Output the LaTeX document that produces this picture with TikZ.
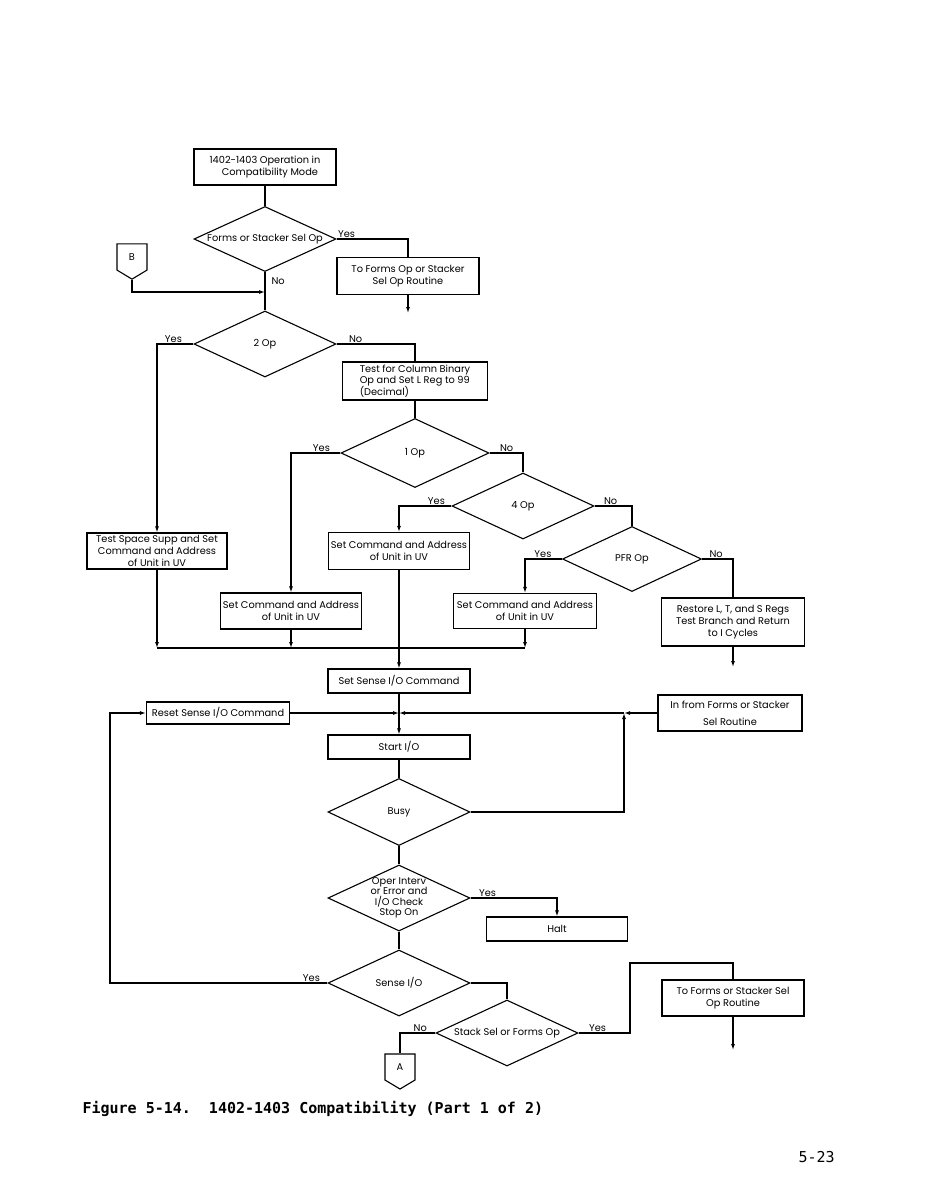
\documentclass[tikz,border=0pt]{standalone}
\usepackage{fontspec}
\setmainfont{Poppins}
\newfontfamily\capfont{DejaVu Sans Mono}
\usetikzlibrary{arrows.meta,positioning,shapes.geometric,shapes.symbols}
\newcommand\boxfont{\fontsize{9.8}{11.8}\selectfont}

\tikzset{
  proc/.style={draw, rectangle, minimum width=142pt, minimum height=36pt,
               inner sep=1pt, align=center, font=\boxfont},
  short/.style={proc, minimum height=24pt},
  decision/.style={draw, diamond, minimum width=142pt, minimum height=66pt,
                   inner sep=0pt},
  offpage/.style={draw, signal, signal to=south, signal pointer angle=118,
                  minimum width=30pt, minimum height=28pt, inner sep=0pt,
                  font=\boxfont},
  lab/.style={font=\boxfont, inner sep=1pt},
}

\begin{document}
\begin{tikzpicture}[x=1pt,y=-1pt,line width=1.1pt,>={Latex[length=6pt,width=4pt]}]
  \useasboundingbox (0,0) rectangle (925,1192);

  % top: entry and forms/stacker test
  \node[proc] (start) at (265,167) {1402-1403 Operation in\\\quad Compatibility Mode};
  \node[decision, minimum height=65pt] (d1) at (265,239)
    [label={[lab]center:Forms or Stacker Sel Op}] {};
  \node[proc, minimum height=37pt] (frm) at (408,276) {To Forms Op or Stacker\\Sel Op Routine};
  \coordinate (frmout) at (408,313);
  \node[offpage] (bconn) at (132,257) {B};
  \coordinate (jb) at (265,292);

  % op code tests
  \node[decision] (d2) at (265,344) [label={[lab]center:2 Op}] {};
  \node[proc, minimum width=145pt, minimum height=38pt, align=left] (colbin) at (415,381)
    {Test for Column Binary\\Op and Set L Reg to 99\\(Decimal)};
  \node[decision, minimum width=148pt, minimum height=69pt] (d3) at (415,453)
    [label={[lab]center:1 Op}] {};
  \node[decision] (d4) at (523,506) [label={[lab]center:4 Op}] {};
  \node[decision, minimum width=139pt, minimum height=65pt] (d5) at (632,559)
    [label={[lab]center:PFR Op}] {};

  % set command boxes
  \node[proc, minimum width=140pt] (space) at (157,551)
    {Test Space Supp and Set\\Command and Address\\of Unit in UV};
  \node[proc, minimum width=141pt, minimum height=37pt] (cmdB) at (399,551)
    {Set Command and Address\\of Unit in UV};
  \node[proc, minimum width=141pt] (cmdA) at (291,611)
    {Set Command and Address\\of Unit in UV};
  \node[proc, minimum width=143pt, minimum height=35pt] (cmdC) at (525,611)
    {Set Command and Address\\of Unit in UV};
  \node[proc, minimum width=143pt, minimum height=48pt] (restore) at (733,622)
    {Restore L, T, and S Regs\\Test Branch and Return\\to I Cycles};
  \coordinate (restoreout) at (733,667);
  \coordinate (merge) at (157,648);

  % sense I/O loop
  \node[short] (sense) at (399,681) {Set Sense I/O Command};
  \node[short, minimum width=143pt, minimum height=22pt] (reset) at (218,713) {Reset Sense I/O Command};
  \node[proc, minimum width=144pt] (infrom) at (730,713)
    {In from Forms or Stacker\\[5pt]Sel Routine};
  \coordinate (j) at (399,713);
  \coordinate (jbusy) at (624,713);
  \node[short] (startio) at (399,747) {Start I/O};
  \node[decision, minimum height=67pt] (busy) at (399,812) [label={[lab]center:Busy}] {};
  \node[decision] (oper) at (399,898)
    [label={[lab,align=center,font=\fontsize{9.8}{10.4}\selectfont]center:Oper Interv\\or Error and\\I/O Check\\Stop On}] {};
  \node[short, minimum width=141pt] (halt) at (557,929) {Halt};
  \node[decision] (sio) at (399,983) [label={[lab]center:Sense I/O}] {};
  \coordinate (loop) at (110,983);
  \node[decision] (stk) at (507,1033) [label={[lab]center:Stack Sel or Forms Op}] {};
  \node[offpage] (aconn) at (400,1067) {A};
  \coordinate (up) at (630,963);
  \node[proc] (tofs) at (733,998) {To Forms or Stacker Sel\\Op Routine};
  \coordinate (tofsout) at (733,1050);

  % connectors
  \draw (start) -- (d1);
  \draw (d1.east) -| (frm.north) node[lab, at start, anchor=south west] {Yes};
  \draw[->] (frm) -- (frmout);
  \draw (d1.south) -- (d2.north) node[lab, at start, anchor=north west, xshift=5pt, yshift=-4pt] {No};
  \draw[->] (bconn.south) |- (jb);
  \draw[->] (d2.west) -| (space.north) node[lab, at start, anchor=south east, xshift=-10pt] {Yes};
  \draw (d2.east) -| (colbin.north) node[lab, at start, anchor=south west, xshift=11pt] {No};
  \draw (colbin) -- (d3);
  \draw[->] (d3.west) -| (cmdA.north) node[lab, at start, anchor=south east, xshift=-9pt] {Yes};
  \draw (d3.east) -| (d4.north) node[lab, at start, anchor=south west, xshift=9pt] {No};
  \draw[->] (d4.west) -| (cmdB.north) node[lab, at start, anchor=south east, xshift=-5pt] {Yes};
  \draw (d4.east) -| (d5.north) node[lab, at start, anchor=south west, xshift=8pt] {No};
  \draw[->] (d5.west) -| (cmdC.north) node[lab, at start, anchor=south east, xshift=-9pt] {Yes};
  \draw (d5.east) -| (restore.north) node[lab, at start, anchor=south west, xshift=6pt] {No};
  \draw[->] (restore) -- (restoreout);
  \draw[->] (space) -- (merge);
  \draw[->] (cmdA) -- (cmdA |- merge);
  \draw[->] (cmdC) -- (cmdC |- merge);
  \draw (merge) -- (cmdC |- merge);
  \draw[->] (cmdB) -- (sense);
  \draw[->] (sense) -- (startio);
  \draw[->] (reset) -- (j);
  \draw[->] (infrom) -- (jbusy);
  \draw[->] (jbusy) -- (j);
  \draw (startio) -- (busy);
  \draw[->] (busy.east) -| (jbusy);
  \draw (busy) -- (oper);
  \draw[->] (oper.east) -| (halt.north) node[lab, at start, anchor=south west, xshift=7pt] {Yes};
  \draw (oper) -- (sio);
  \draw[->] (sio.west) -- (loop) node[lab, at start, anchor=south east, xshift=-6pt] {Yes}
    |- (reset.west);
  \draw (sio.east) -| (stk.north);
  \draw (stk.west) -| (aconn.north) node[lab, at start, anchor=south east, xshift=-7pt] {No};
  \draw (stk.east) -| (up) node[lab, at start, anchor=south west, xshift=9pt] {Yes}
    -| (tofs.north);
  \draw[->] (tofs) -- (tofsout);

  % caption and page number
  \node[anchor=base west, inner sep=0pt, font={\capfont\bfseries\fontsize{15}{18}\selectfont}] (caption)
    at (82,1113) {Figure 5-14.\ \ 1402-1403 Compatibility (Part 1 of 2)};
  \node[anchor=base west, inner sep=0pt, font={\capfont\fontsize{15}{18}\selectfont}] (page)
    at (798,1162) {5-23};
\end{tikzpicture}
\end{document}
